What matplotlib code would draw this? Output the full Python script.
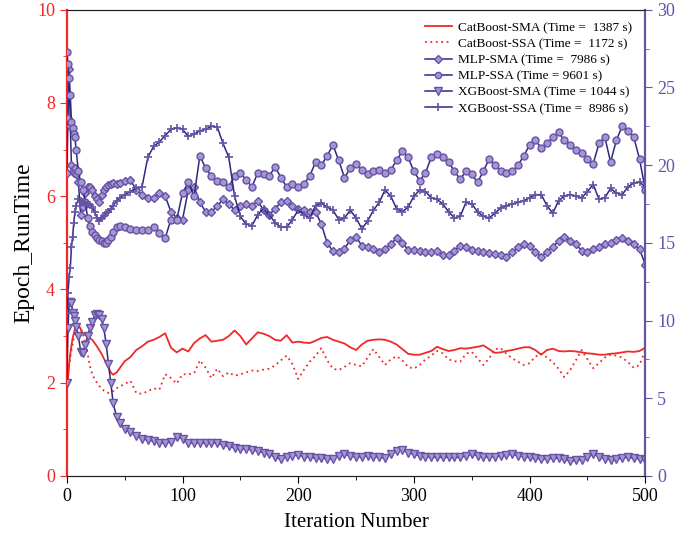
import matplotlib
matplotlib.use("Agg")
import matplotlib.pyplot as plt
from matplotlib.ticker import MultipleLocator

plt.rcParams['font.family'] = ['Liberation Serif', 'DejaVu Serif']

# iteration grid (dense at the start, every 5 after 50)
iters = [0, 1, 2, 3, 4, 5, 6, 7, 8, 10, 12, 14, 16, 18, 20, 22, 24, 26, 28, 30,
         32, 34, 36, 38, 40, 43, 46,
         50, 55, 60, 65, 70, 75, 80, 85, 90, 95, 100, 105, 110, 115, 120, 125,
         130, 135, 140, 145, 150, 155, 160, 165, 170, 175, 180, 185, 190, 195,
         200, 205, 210, 215, 220, 225, 230, 235, 240, 245, 250, 255, 260, 265,
         270, 275, 280, 285, 290, 295, 300, 305, 310, 315, 320, 325, 330, 335,
         340, 345, 350, 355, 360, 365, 370, 375, 380, 385, 390, 395, 400, 405,
         410, 415, 420, 425, 430, 435, 440, 445, 450, 455, 460, 465, 470, 475,
         480, 485, 490, 495, 500]

# left axis (Epoch_RunTime)
cat_sma = [2.00, 2.06, 2.40, 2.62, 2.80, 2.95, 3.05, 3.15, 3.26, 3.24, 3.15, 3.06, 3.02, 3.00, 2.95, 2.92, 2.85, 2.78, 2.70, 2.62,
           2.52, 2.42, 2.32, 2.22, 2.17, 2.22, 2.32,
           2.46, 2.55, 2.70, 2.78, 2.88, 2.92, 2.98, 3.06, 2.75, 2.65, 2.73, 2.67, 2.85, 2.95, 3.02, 2.88,
           2.90, 2.92, 3.00, 3.12, 3.00, 2.82, 2.95, 3.08, 3.05, 3.00, 2.92, 2.90, 3.02, 2.86,
           2.88, 2.86, 2.85, 2.90, 2.96, 2.98, 2.92, 2.88, 2.84, 2.76, 2.70, 2.82, 2.90, 2.92,
           2.93, 2.92, 2.88, 2.82, 2.72, 2.62, 2.60, 2.60, 2.64, 2.68, 2.77, 2.72, 2.68, 2.70,
           2.74, 2.73, 2.75, 2.77, 2.80, 2.72, 2.64, 2.65, 2.68, 2.70, 2.73, 2.76, 2.76, 2.70,
           2.60, 2.70, 2.73, 2.68, 2.67, 2.68, 2.67, 2.65, 2.63, 2.62, 2.60, 2.60, 2.62, 2.63,
           2.65, 2.67, 2.66, 2.68, 2.75]
cat_ssa = [1.99, 2.20, 2.38, 2.55, 2.70, 2.82, 2.95, 3.06, 3.14, 3.24, 3.14, 3.03, 2.84, 2.62, 2.35, 2.18, 2.08, 2.00, 1.93, 1.88,
           1.83, 1.80, 1.78, 1.78, 1.82, 1.88, 1.92,
           1.97, 2.04, 1.78, 1.76, 1.82, 1.88, 1.85, 2.18, 2.10, 1.98, 2.18, 2.18, 2.20, 2.48, 2.32, 2.10,
           2.30, 2.14, 2.22, 2.15, 2.18, 2.22, 2.26, 2.25, 2.28, 2.30, 2.37, 2.48, 2.58, 2.40,
           2.08, 2.28, 2.45, 2.58, 2.74, 2.48, 2.30, 2.27, 2.34, 2.42, 2.38, 2.35, 2.54, 2.72,
           2.55, 2.38, 2.50, 2.57, 2.48, 2.34, 2.30, 2.38, 2.50, 2.58, 2.68, 2.63, 2.50, 2.46,
           2.45, 2.62, 2.66, 2.52, 2.38, 2.52, 2.72, 2.74, 2.62, 2.52, 2.45, 2.38, 2.42, 2.56,
           2.62, 2.54, 2.44, 2.30, 2.12, 2.27, 2.48, 2.70, 2.50, 2.31, 2.42, 2.54, 2.60, 2.58,
           2.54, 2.44, 2.32, 2.38, 2.70]

# right axis
mlp_sma = [19.5, 23.0, 26.2, 22.5, 20.0, 19.6, 19.5, 19.8, 19.4, 18.9, 16.8, 17.3, 18.2, 18.6, 18.6, 18.4, 18.0, 17.8, 17.6, 18.1,
           18.4, 18.6, 18.7, 18.8, 18.85, 18.8, 18.85,
           18.95, 19.05, 18.4, 18.1, 17.9, 17.9, 18.2, 18.0, 17.0, 16.6, 16.5, 18.4, 18.6, 17.6, 17.0, 17.0,
           17.35, 17.8, 17.5, 17.1, 17.4, 17.5, 17.35, 17.7, 17.1, 16.8, 17.2, 17.6, 17.7, 17.35,
           17.15, 17.1, 17.0, 17.0, 16.2, 15.0, 14.45, 14.4, 14.6, 15.2, 15.4, 14.8, 14.7, 14.6,
           14.4, 14.6, 14.9, 15.3, 15.0, 14.55, 14.55, 14.5, 14.4, 14.4, 14.45, 14.2, 14.2, 14.5,
           14.8, 14.75, 14.55, 14.5, 14.4, 14.35, 14.3, 14.2, 14.1, 14.4, 14.7, 14.95, 14.8, 14.4,
           14.1, 14.4, 14.75, 15.1, 15.4, 15.1, 14.9, 14.5, 14.4, 14.6, 14.75, 14.9, 15.0, 15.2,
           15.3, 15.1, 14.9, 14.6, 13.6]
mlp_ssa = [27.3, 26.5, 25.6, 24.5, 22.8, 22.4, 22.0, 21.8, 21.0, 19.6, 18.9, 18.4, 17.6, 16.6, 16.1, 15.7, 15.5, 15.3, 15.2, 15.1,
           15.0, 15.0, 15.2, 15.4, 15.7, 16.0, 16.1,
           16.0, 15.9, 15.8, 15.85, 15.8, 16.0, 15.6, 15.3, 16.5, 16.5, 18.2, 18.9, 18.0, 20.6, 19.8, 19.3,
           19.0, 18.9, 18.6, 19.3, 19.5, 19.05, 18.6, 19.5, 19.4, 19.3, 19.9, 19.2, 18.6, 18.8,
           18.6, 18.8, 19.3, 20.2, 20.0, 20.6, 21.3, 20.3, 19.2, 19.8, 20.1, 19.7, 19.4, 19.6,
           19.7, 19.5, 19.7, 20.3, 20.9, 20.5, 19.6, 19.0, 19.5, 20.5, 20.7, 20.5, 20.2, 19.6,
           19.1, 19.6, 19.4, 18.9, 19.6, 20.4, 20.0, 19.6, 19.5, 19.6, 20.0, 20.6, 21.3, 21.6,
           21.1, 21.4, 21.8, 22.1, 21.6, 21.3, 21.0, 20.8, 20.4, 20.1, 21.4, 21.8, 20.2, 21.6,
           22.5, 22.2, 21.8, 20.4, 18.4]
xgb_sma = [6.0, 9.5, 11.2, 11.2, 11.1, 10.5, 10.3, 10.0, 9.6, 9.0, 8.0, 7.9, 8.4, 9.0, 9.5, 9.9, 10.35, 10.4, 10.35, 10.1,
           9.5, 8.5, 7.2, 6.0, 4.7, 3.8, 3.4,
           3.0, 2.8, 2.6, 2.4, 2.3, 2.25, 2.15, 2.1, 2.2, 2.5, 2.4, 2.15, 2.1, 2.15, 2.1, 2.15,
           2.1, 2.0, 1.9, 1.8, 1.75, 1.72, 1.7, 1.6, 1.5, 1.4, 1.2, 1.07, 1.25, 1.3,
           1.35, 1.25, 1.2, 1.15, 1.15, 1.1, 1.1, 1.3, 1.4, 1.3, 1.2, 1.25, 1.3, 1.25,
           1.2, 1.15, 1.4, 1.6, 1.7, 1.5, 1.4, 1.3, 1.25, 1.2, 1.2, 1.2, 1.2, 1.2,
           1.2, 1.3, 1.4, 1.3, 1.25, 1.2, 1.25, 1.3, 1.35, 1.4, 1.3, 1.25, 1.2, 1.15,
           1.1, 1.1, 1.15, 1.15, 1.1, 0.95, 1.0, 1.05, 1.2, 1.4, 1.25, 1.1, 1.05, 1.1,
           1.15, 1.2, 1.15, 1.1, 1.05]
xgb_ssa = [10.5, 11.8, 12.8, 13.4, 14.7, 15.4, 16.3, 17.0, 17.4, 17.8, 17.7, 17.6, 17.55, 17.5, 17.45, 17.3, 17.0, 16.6, 16.4, 16.6,
           16.7, 16.9, 17.0, 17.2, 17.4, 17.7, 17.9,
           18.1, 18.3, 18.5, 18.6, 20.5, 21.2, 21.5, 21.9, 22.3, 22.4, 22.3, 21.85, 22.0, 22.2, 22.3, 22.5,
           22.45, 21.4, 20.5, 18.0, 16.7, 16.2, 16.1, 16.8, 17.2, 16.8, 16.3, 16.0, 16.0, 16.5,
           17.1, 16.8, 16.6, 17.4, 17.55, 17.3, 17.1, 16.5, 16.6, 17.1, 16.6, 15.9, 16.4, 17.1,
           17.6, 18.4, 18.0, 17.2, 17.0, 17.3, 18.0, 18.4, 18.3, 17.9, 17.8, 17.5, 17.0, 16.6,
           16.7, 17.6, 17.5, 17.0, 16.7, 16.6, 16.9, 17.25, 17.4, 17.5, 17.6, 17.7, 17.9, 18.1,
           18.1, 17.4, 16.9, 17.7, 18.0, 18.1, 18.0, 17.9, 18.3, 18.75, 17.8, 17.9, 18.5, 18.2,
           18.1, 18.6, 18.85, 18.9, 18.6]

labels = ["CatBoost-SMA (Time =  1387 s)", "CatBoost-SSA (Time =  1172 s)",
          "MLP-SMA (Time =  7986 s)", "MLP-SSA (Time = 9601 s)",
          "XGBoost-SMA (Time = 1044 s)", "XGBoost-SSA (Time =  8986 s)"]

red = '#f02828'
purple = '#6652a6'
navy = '#2a2a80'
mface = '#a596d2'

fig = plt.figure(figsize=(6.75, 5.39), dpi=100)
ax = fig.add_axes([0.099, 0.117, 0.857, 0.865])
ax2 = ax.twinx()

l1, = ax.plot(iters, cat_sma, color=red, lw=1.3, label=labels[0])
l2, = ax.plot(iters, cat_ssa, color=red, lw=1.3, ls=(0, (1, 2)), label=labels[1])

mk = dict(color=navy, lw=1.1, markersize=5, markeredgecolor=purple,
          markerfacecolor=mface, markeredgewidth=1.0)
l3, = ax2.plot(iters, mlp_sma, marker='D', label=labels[2], **dict(mk, markersize=4.2))
l4, = ax2.plot(iters, mlp_ssa, marker='o', label=labels[3], **mk)
l5, = ax2.plot(iters, xgb_sma, marker='v', label=labels[4], **dict(mk, markersize=6))
l6, = ax2.plot(iters, xgb_ssa, marker='+', label=labels[5], **dict(mk, markersize=6, markeredgewidth=1.2))

ax.set_xlim(0, 500)
ax.set_ylim(0, 10)
ax2.set_ylim(0, 30)
ax.xaxis.set_major_locator(MultipleLocator(100))
ax.xaxis.set_minor_locator(MultipleLocator(50))
ax.yaxis.set_major_locator(MultipleLocator(2))
ax.yaxis.set_minor_locator(MultipleLocator(1))
ax2.yaxis.set_major_locator(MultipleLocator(5))
ax2.yaxis.set_minor_locator(MultipleLocator(2.5))

ax.tick_params(axis='x', which='both', direction='out', labelsize=13, top=False)
ax.tick_params(axis='x', which='major', length=5)
ax.tick_params(axis='x', which='minor', length=3)
ax.tick_params(axis='y', which='both', colors=red, labelsize=13, direction='out')
ax.tick_params(axis='y', which='major', length=5)
ax.tick_params(axis='y', which='minor', length=3)
ax2.tick_params(axis='y', which='both', colors=purple, labelsize=13, direction='out')
ax2.tick_params(axis='y', which='major', length=5)
ax2.tick_params(axis='y', which='minor', length=3)

ax.spines['left'].set_color(red)
ax.spines['left'].set_linewidth(1.6)
ax.spines['right'].set_visible(False)
ax2.spines['left'].set_visible(False)
ax2.spines['right'].set_color(purple)
ax2.spines['right'].set_linewidth(1.6)
for a in (ax, ax2):
    a.spines['top'].set_color('#222222')
    a.spines['bottom'].set_color('#222222')

ax.set_xlabel("Iteration Number", fontsize=15, labelpad=6)
ax.set_ylabel("Epoch_RunTime", fontsize=17, labelpad=2)

leg = ax2.legend(handles=[l1, l2, l3, l4, l5, l6], loc='upper right',
                 bbox_to_anchor=(0.997, 1.0), frameon=False, fontsize=9.5,
                 handlelength=2.1, handletextpad=0.4, labelspacing=0.3,
                 markerscale=0.9)

fig.savefig("out.png", dpi=100)
